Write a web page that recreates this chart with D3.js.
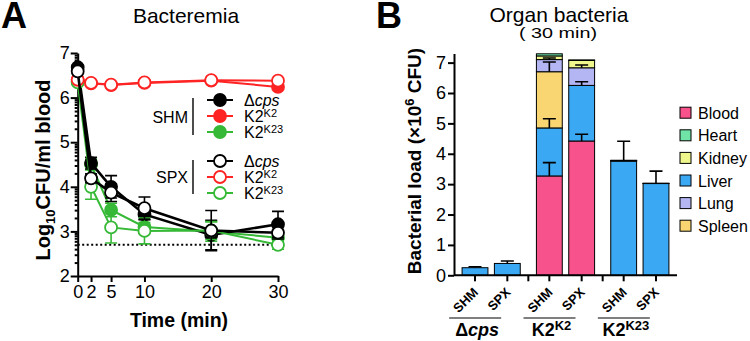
<!DOCTYPE html>
<html>
<head>
<meta charset="utf-8">
<script src="https://cdn.jsdelivr.net/npm/d3@7"></script>
<style>
  body { margin: 0; background: #fff; }
  svg { font-family: "Liberation Sans", Arial, Helvetica, sans-serif; }
  .axis path, .axis line { stroke: #000; stroke-width: 2; }
  .axis text { font-size: 18px; fill: #000; }
</style>
</head>
<body>
<div id="chart"></div>
<script>
// ---- panel A data (log10 CFU/ml blood) ----
const times = [0, 2, 5, 10, 20, 30];
const shmDcps = [6.68, 4.53, 4.0, 3.38, 2.92, 3.16];
const shmDcpsErr = [0.05, 0.13, 0.25, 0.12, 0.33, 0.29];
const shmK2 = [6.4, 6.32, 6.28, 6.33, 6.38, 6.24];
const shmK2Err = [0.04, 0.03, 0.03, 0.03, 0.03, 0.04];
const shmK23 = [6.36, 4.5, 3.48, 3.1, 3.0, 2.86];
const shmK23Err = [0.05, 0.12, 0.15, 0.1, 0.22, 0.08];
const spxDcps = [6.59, 4.19, 3.87, 3.52, 3.02, 2.97];
const spxDcpsErr = [0.05, 0.1, 0.2, 0.25, 0.45, 0.14];
const spxK2 = [6.4, 6.33, 6.29, 6.34, 6.39, 6.38];
const spxK2Err = [0.03, 0.03, 0.03, 0.03, 0.03, 0.03];
const spxK23 = [6.34, 4.0, 3.09, 3.01, 3.02, 2.7];
const spxK23Err = [0.05, 0.28, 0.35, 0.29, 0.2, 0.1];
const detectionLimit = 2.7;

// ---- panel B data (x10^6 CFU) ----
const strains = ["Δcps", "K2K2", "K2K23"];
const groups = ["SHM", "SPX"];
const organs = ["Blood", "Heart", "Kidney", "Liver", "Lung", "Spleen"];
const stackOrder = ["Blood", "Liver", "Spleen", "Lung", "Kidney", "Heart"];
const blood = [0, 0, 3.27, 4.42, 0, 0];
const liver = [0.25, 0.39, 1.58, 1.83, 3.76, 3.02];
const spleen = [0, 0, 1.85, 0, 0, 0];
const lung = [0, 0, 0.4, 0.58, 0.01, 0.005];
const kidney = [0, 0, 0.12, 0.24, 0.01, 0.005];
const heart = [0, 0, 0.07, 0.02, 0.005, 0];
const bloodErr = [0, 0, 0.44, 0.22, 0, 0];
const liverErr = [0.03, 0.08, 0.3, 0.12, 0.65, 0.41];
const spleenErr = [0, 0, 0.32, 0, 0, 0];
const lungErr = [0, 0, 0.05, 0.09, 0, 0];

const svg = d3.select("#chart").append("svg").attr("width", 750).attr("height", 341);

// ================= Panel A =================
const xA = d3.scaleLinear().domain([0, 30]).range([77.7, 278]);
const yA = d3.scaleLinear().domain([2, 7]).range([276, 53]);

svg.append("text").attr("x", 1).attr("y", 28).attr("font-size", 36).attr("font-weight", "bold").text("A");
svg.append("text").attr("x", 186).attr("y", 23).attr("text-anchor", "middle").attr("font-size", 21).text("Bacteremia");

const minorA = [];
for (let d = 2; d < 7; d++) for (let k = 2; k <= 9; k++) minorA.push(d + Math.log10(k));

svg.append("g").attr("class", "axis").attr("transform", "translate(77.7,0)")
  .call(d3.axisLeft(yA).tickValues(minorA).tickSize(3).tickSizeOuter(0).tickFormat(""))
  .call((g) => g.select(".domain").remove());
svg.append("g").attr("class", "axis").attr("transform", "translate(77.7,0)")
  .call(d3.axisLeft(yA).tickValues([2, 3, 4, 5, 6, 7]).tickFormat(d3.format("d"))
    .tickSize(7).tickPadding(1).tickSizeOuter(0));
svg.append("g").attr("class", "axis").attr("transform", "translate(0,276)")
  .call(d3.axisBottom(xA).tickValues(times).tickSize(6).tickPadding(3).tickSizeOuter(0));

svg.append("text").attr("x", 179).attr("y", 327).attr("text-anchor", "middle")
  .attr("font-size", 19.5).attr("font-weight", "bold").text("Time (min)");
const ylabA = svg.append("text").attr("transform", "translate(50,170) rotate(-90)")
  .attr("text-anchor", "middle").attr("font-size", 20).attr("font-weight", "bold");
ylabA.append("tspan").text("Log");
ylabA.append("tspan").attr("font-size", 13).attr("dy", 5).text("10");
ylabA.append("tspan").attr("dy", -5).text("CFU/ml blood");

svg.append("line").attr("x1", xA(0)).attr("x2", xA(30))
  .attr("y1", yA(detectionLimit)).attr("y2", yA(detectionLimit))
  .attr("stroke", "#000").attr("stroke-width", 2).attr("stroke-dasharray", "2,2.5");

const red = "#ff2424", green = "#36b936", black = "#000";
const seriesA = [
  { v: shmK23, e: shmK23Err, c: green, open: false, w: 2 },
  { v: shmK2, e: shmK2Err, c: red, open: false, w: 2 },
  { v: shmDcps, e: shmDcpsErr, c: black, open: false, w: 2.6 },
  { v: spxK23, e: spxK23Err, c: green, open: true, w: 2 },
  { v: spxK2, e: spxK2Err, c: red, open: true, w: 2 },
  { v: spxDcps, e: spxDcpsErr, c: black, open: true, w: 2.6 },
];
const line = d3.line().x((d) => xA(d[0])).y((d) => yA(d[1]));

seriesA.forEach((s) => {
  const pts = times.map((t, i) => [t, s.v[i], s.e[i]]);
  const g = svg.append("g");
  g.selectAll("path.err").data(pts).enter().append("path").attr("class", "err")
    .attr("d", (d) => {
      const x = xA(d[0]), y1 = yA(d[1] + d[2]), y2 = yA(d[1] - d[2]);
      return `M${x},${y1}V${y2}M${x - 6},${y1}H${x + 6}M${x - 6},${y2}H${x + 6}`;
    })
    .attr("fill", "none").attr("stroke", s.c).attr("stroke-width", 1.6);
  g.append("path").datum(pts).attr("d", line)
    .attr("fill", "none").attr("stroke", s.c).attr("stroke-width", s.w);
  g.selectAll("circle").data(pts).enter().append("circle")
    .attr("cx", (d) => xA(d[0])).attr("cy", (d) => yA(d[1])).attr("r", 6)
    .attr("fill", s.open ? "#fff" : s.c).attr("stroke", s.c).attr("stroke-width", 1.8);
});

// legend A
const legA = [
  { name: "Δcps", c: black, open: false, y: 100 },
  { name: "K2K2", c: red, open: false, y: 116 },
  { name: "K2K23", c: green, open: false, y: 132 },
  { name: "Δcps", c: black, open: true, y: 161 },
  { name: "K2K2", c: red, open: true, y: 177 },
  { name: "K2K23", c: green, open: true, y: 193 },
];
function strainLabel(sel, name, size, supSize) {
  if (name === "Δcps") {
    sel.append("tspan").text("Δ");
    sel.append("tspan").attr("font-style", "italic").text("cps");
  } else {
    sel.append("tspan").text("K2");
    sel.append("tspan").attr("font-size", supSize).attr("dy", -size * 0.33).text(name.slice(2));
  }
}
legA.forEach((d) => {
  svg.append("line").attr("x1", 207).attr("x2", 233).attr("y1", d.y).attr("y2", d.y)
    .attr("stroke", d.c).attr("stroke-width", 2);
  svg.append("circle").attr("cx", 220).attr("cy", d.y).attr("r", 6)
    .attr("fill", d.open ? "#fff" : d.c).attr("stroke", d.c).attr("stroke-width", 1.8);
  const t = svg.append("text").attr("x", 244).attr("y", d.y + 6).attr("font-size", 16);
  strainLabel(t, d.name, 16, 11);
});
[["SHM", 98, 135], ["SPX", 160, 194]].forEach(([lab, y1, y2]) => {
  svg.append("text").attr("x", 188).attr("y", (y1 + y2) / 2 + 6).attr("text-anchor", "end")
    .attr("font-size", 16).text(lab);
  svg.append("line").attr("x1", 193).attr("x2", 193).attr("y1", y1).attr("y2", y2)
    .attr("stroke", "#000").attr("stroke-width", 1.4);
});

// ================= Panel B =================
const colors = {
  Blood: "#f7528b", Heart: "#6fe4a6", Kidney: "#eef68c",
  Liver: "#3aa8f2", Lung: "#b3b6f2", Spleen: "#f9d672",
};
const organVals = { Blood: blood, Liver: liver, Spleen: spleen, Lung: lung, Kidney: kidney, Heart: heart };
const organErr = { Blood: bloodErr, Liver: liverErr, Spleen: spleenErr, Lung: lungErr };

const bars = [];
strains.forEach((s, si) => groups.forEach((g, gi) => bars.push({ strain: s, group: g, i: si * 2 + gi })));
const table = bars.map((b) => {
  const row = { strain: b.strain, group: b.group };
  stackOrder.forEach((o) => (row[o] = organVals[o][b.i]));
  return row;
});
const stacked = d3.stack().keys(stackOrder)(table);

const xB0 = d3.scaleBand().domain(strains).range([454, 677]).padding(0);
const xB1 = d3.scaleBand().domain(groups).range([0, xB0.bandwidth()]).paddingInner(0.2).paddingOuter(0.25);
const yB = d3.scaleLinear().domain([0, 7.3]).range([275.3, 53.5]);
const barX = (d) => xB0(d.strain) + xB1(d.group);

svg.append("text").attr("x", 376).attr("y", 28).attr("font-size", 36).attr("font-weight", "bold").text("B");
svg.append("text").attr("x", 559).attr("y", 22).attr("text-anchor", "middle").attr("font-size", 21).text("Organ bacteria");
svg.append("text").attr("x", 558).attr("y", 38).attr("text-anchor", "middle").attr("font-size", 15)
  .attr("textLength", 78).attr("lengthAdjust", "spacingAndGlyphs").text("( 30 min)");

stacked.forEach((layer) => {
  svg.append("g").selectAll("rect").data(layer.filter((d) => d[1] - d[0] > 0)).enter().append("rect")
    .attr("x", (d) => barX(d.data)).attr("width", xB1.bandwidth())
    .attr("y", (d) => yB(d[1])).attr("height", (d) => yB(d[0]) - yB(d[1]))
    .attr("fill", colors[layer.key]).attr("stroke", "#000").attr("stroke-width", 1);
});
// error bars (upward from each segment top)
stacked.forEach((layer) => {
  const err = organErr[layer.key];
  if (!err) return;
  layer.forEach((d, i) => {
    if (!err[i]) return;
    const cx = barX(d.data) + xB1.bandwidth() / 2;
    svg.append("path")
      .attr("d", `M${cx},${yB(d[1])}V${yB(d[1] + err[i])}M${cx - 6.5},${yB(d[1] + err[i])}H${cx + 6.5}`)
      .attr("stroke", "#000").attr("stroke-width", 1.6).attr("fill", "none");
  });
});

const tickPos = bars.map((b) => barX(b) + xB1.bandwidth() / 2)
  .concat([xB0("K2K2"), xB0("K2K23")]);
const xAxisB = svg.append("g").attr("class", "axis").attr("transform", "translate(0,275.3)");
xAxisB.append("path").attr("d", "M454,0H677").attr("stroke", "#000").attr("stroke-width", 2);
xAxisB.selectAll("line").data(tickPos).enter().append("line")
  .attr("x1", (d) => d).attr("x2", (d) => d).attr("y1", 0).attr("y2", 6);

svg.append("g").attr("class", "axis").attr("transform", "translate(454,0)")
  .call(d3.axisLeft(yB).tickValues(d3.range(0, 8)).tickSize(6).tickPadding(2).tickSizeOuter(0));

svg.append("g").selectAll("text").data(bars).enter().append("text")
  .attr("transform", (d) => `translate(${barX(d) + xB1.bandwidth() / 2 + 4},${293}) rotate(-45)`)
  .attr("text-anchor", "end").attr("font-size", 13).attr("font-weight", "bold").text((d) => d.group);

strains.forEach((s) => {
  const cx = xB0(s) + xB0.bandwidth() / 2 - 16;
  svg.append("line").attr("x1", cx - 26).attr("x2", cx + 26).attr("y1", 318).attr("y2", 318)
    .attr("stroke", "#000").attr("stroke-width", 1.2);
  const t = svg.append("text").attr("x", cx + 2).attr("y", 336).attr("text-anchor", "middle")
    .attr("font-size", 18).attr("font-weight", "bold");
  strainLabel(t, s, 18, 13);
});

const ylabB = svg.append("text").attr("transform", "translate(421,161) rotate(-90)")
  .attr("text-anchor", "middle").attr("font-size", 19).attr("font-weight", "bold");
ylabB.append("tspan").text("Bacterial load (×10");
ylabB.append("tspan").attr("font-size", 13).attr("dy", -7).text("6");
ylabB.append("tspan").attr("dy", 7).text(" CFU)");

// legend B
organs.forEach((o, i) => {
  const y = 112.7 + i * 22.6;
  svg.append("rect").attr("x", 680).attr("y", y - 5.5).attr("width", 11).attr("height", 11)
    .attr("fill", colors[o]).attr("stroke", "#000").attr("stroke-width", 1);
  svg.append("text").attr("x", 698).attr("y", y + 6).attr("font-size", 16).text(o);
});
</script>
</body>
</html>
